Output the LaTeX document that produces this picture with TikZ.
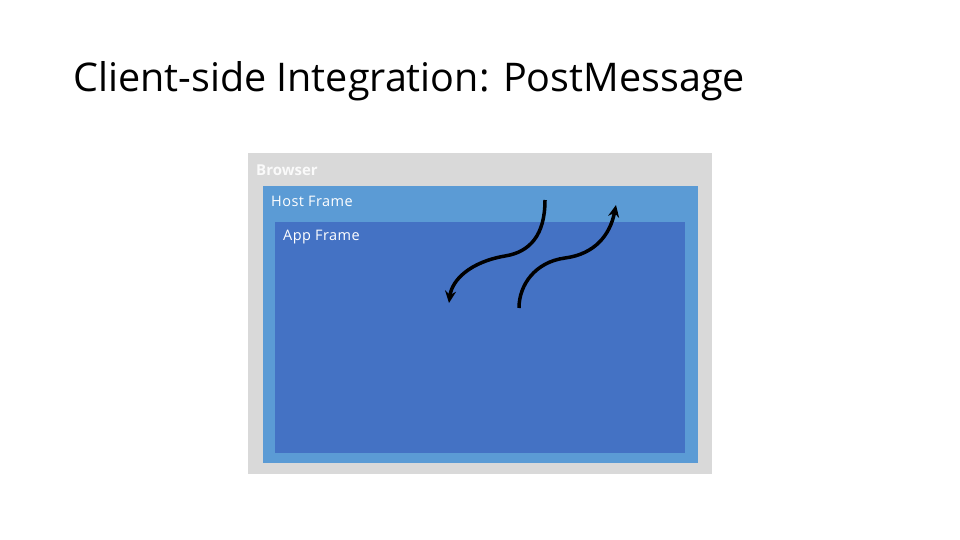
\documentclass[tikz,border=0pt]{standalone}
\usepackage{fontspec}
\setmainfont{Open Sans}
\usepackage{tikz}
\usetikzlibrary{arrows.meta}

\definecolor{browsergray}{HTML}{D9D9D9}
\definecolor{hostblue}{HTML}{5B9BD5}
\definecolor{appblue}{HTML}{4472C4}

\tikzset{
  frame/.style={shape=rectangle,draw=none,anchor=north west,inner sep=0pt},
  framelabel/.style={anchor=west,text=white,inner sep=0pt,font=\fontsize{14.5}{16}\selectfont\addfontfeature{LetterSpace=3}},
  msg/.style={line width=3.5pt,-{Stealth[length=12pt,width=11pt]}}
}

\begin{document}
\begin{tikzpicture}[x=1pt,y=-1pt]
        \useasboundingbox[fill=white] (0,0) rectangle (960,540);

        \node[anchor=west,inner sep=0pt,font=\fontsize{39.5}{44}\selectfont] (title) at (73,81) {Client-side Integration: PostMessage};

        \node[frame,fill=browsergray,minimum width=464pt,minimum height=321pt] (browser) at (248,153) {};
        \node[frame,fill=hostblue,minimum width=435pt,minimum height=277pt] (host) at (263,186) {};
        \node[frame,fill=appblue,minimum width=410pt,minimum height=231pt] (app) at (275,222) {};

        \node[framelabel,font=\fontsize{15}{18}\selectfont\bfseries,text=white!96!gray] (browserlabel) at (256,170) {Browser};
        \node[framelabel] (hostlabel) at (271,201) {Host Frame};
        \node[framelabel] (applabel) at (283,237) {App Frame};

        \coordinate (downstart) at (545,200);
        \coordinate (downend) at (449,303);
        \coordinate (upstart) at (519,308);
        \coordinate (upend) at (616,205);

	\draw[msg] (downstart) .. controls (545,235) and (530,252) .. (505,256) .. controls (470,262) and (452,280) .. (downend);
	\draw[msg] (upstart) .. controls (519,285) and (535,262) .. (565,258) .. controls (595,254) and (610,235) .. (upend);
\end{tikzpicture}
\end{document}
